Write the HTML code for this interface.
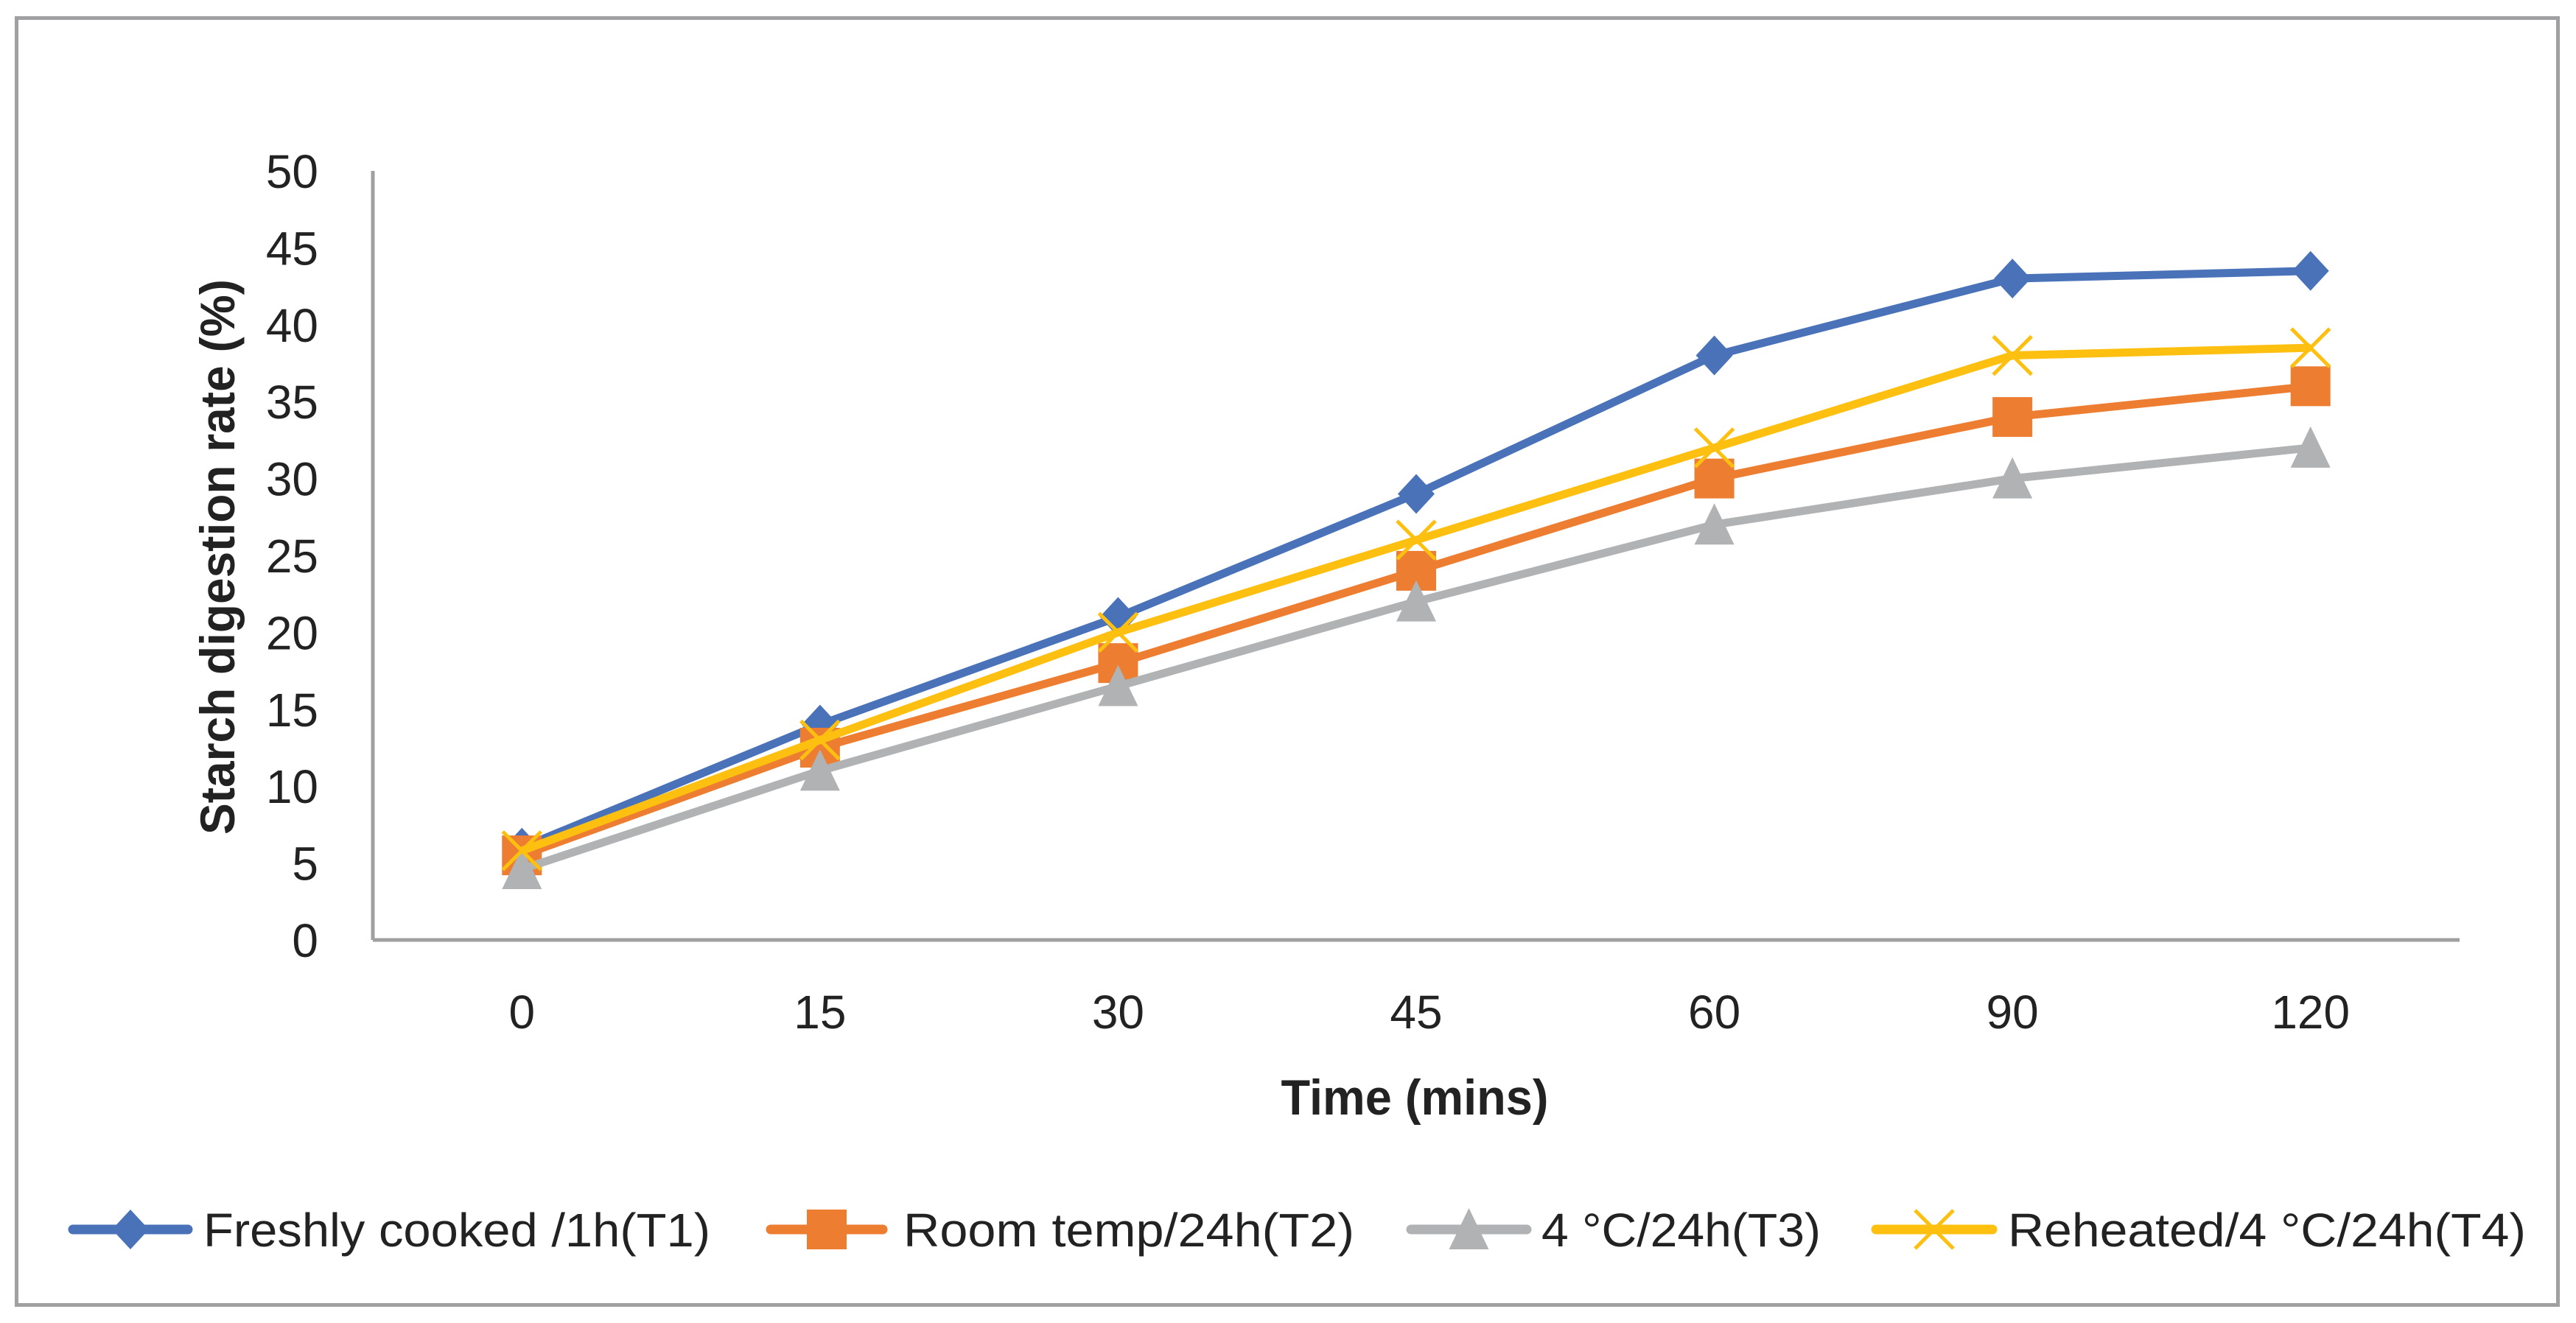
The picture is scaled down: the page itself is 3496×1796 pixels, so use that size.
<!DOCTYPE html>
<html><head><meta charset="utf-8"><style>
html,body{margin:0;padding:0;background:#fff;}
svg{display:block;}
text{font-family:"Liberation Sans",sans-serif;fill:#222;}
</style></head><body>
<svg id="chart" width="3496" height="1796" viewBox="0 0 3496 1796" xmlns="http://www.w3.org/2000/svg">
<rect x="22.5" y="24.5" width="3449" height="1747" fill="#fff" stroke="#a0a0a2" stroke-width="5"/>
<g id="grid"></g>
<g id="axes"></g>
<g id="series"></g>
<text transform="translate(318,756) rotate(-90)" text-anchor="middle" font-size="66" font-weight="bold" textLength="754" lengthAdjust="spacingAndGlyphs">Starch digestion rate (%)</text>
<text x="1920" y="1513" text-anchor="middle" font-size="68" font-weight="bold" textLength="363" lengthAdjust="spacingAndGlyphs">Time (mins)</text>
<g id="legend"></g>
</svg>
<script>
const categories = ["0","15","30","45","60","90","120"];
const yTicks = [0,5,10,15,20,25,30,35,40,45,50];
const seriesNames = ["Freshly cooked /1h(T1)","Room temp/24h(T2)","4 °C/24h(T3)","Reheated/4 °C/24h(T4)"];
const t1 = [6,14,21,29,38,43,43.5];
const t2 = [5.5,12.5,18,24,30,34,36];
const t3 = [4.6,11,16.5,22,27,30,32];
const t4 = [5.8,13,20,26,32,38,38.5];

const NS="http://www.w3.org/2000/svg";
const X0=506, X1=3338, Y0=1276, YTOP=232, YMAX=50;
const band=(X1-X0)/categories.length;
const xs=i=>X0+band*(i+0.5);
const ys=v=>Y0-(v/YMAX)*(Y0-YTOP);
function mk(tag,parent,attrs){const e=document.createElementNS(NS,tag);for(const k in attrs)e.setAttribute(k,attrs[k]);parent.appendChild(e);return e;}
const axes=document.getElementById('axes');
let e=mk('line',axes,{x1:X0,y1:YTOP,x2:X0,y2:Y0,stroke:'#a0a0a2','stroke-width':5});


e=mk('line',axes,{x1:X0,y1:Y0,x2:X1,y2:Y0,stroke:'#a0a0a2','stroke-width':5});


yTicks.forEach(v=>{
  const t=mk('text',axes,{x:432,y:ys(v)+23,'text-anchor':'end','font-size':64});
  t.textContent=String(v);
  
  
});
categories.forEach((c,i)=>{
  const t=mk('text',axes,{x:xs(i),y:1396,'text-anchor':'middle','font-size':64});
  t.textContent=c;
  
  
});
const colors=['#4a72b8','#ed7d31','#b1b2b3','#fdc010'];
const data=[t1,t2,t3,t4];
function marker(g,k,x,y){
  const c=colors[k];let m;
  if(k===0)m=mk('polygon',g,{points:`${x},${y-27} ${x+25},${y} ${x},${y+27} ${x-25},${y}`,fill:c});
  else if(k===1)m=mk('rect',g,{x:x-27,y:y-27,width:54,height:54,fill:c});
  else if(k===2)m=mk('polygon',g,{points:`${x},${y-29} ${x+27},${y+27} ${x-27},${y+27}`,fill:c});
  else m=mk('path',g,{d:`M${x-26},${y-26}L${x+26},${y+26}M${x+26},${y-26}L${x-26},${y+26}`,stroke:c,'stroke-width':5,fill:'none'});
  return m;
}
const sg=document.getElementById('series');
data.forEach((arr,k)=>{
  const g=mk('g',sg,{});
  
  
  const pts=arr.map((v,i)=>xs(i)+','+ys(v)).join(' ');
  const l=mk('polyline',g,{points:pts,fill:'none',stroke:colors[k],'stroke-width':11,'stroke-linejoin':'round'});
  
  
  arr.forEach((v,i)=>{
    const m=marker(g,k,xs(i),ys(v));
    
    
  });
});
const lg=document.getElementById('legend');
const legLine=[[92,262],[1039,1205],[1908,2079],[2539,2711]];
const legText=[[276,688],[1226,612],[2092,379],[2725,703]];
seriesNames.forEach((n,k)=>{
  const g=mk('g',lg,{});
  
  
  mk('line',g,{x1:legLine[k][0]+7,y1:1669,x2:legLine[k][1]-7,y2:1669,stroke:colors[k],'stroke-width':13,'stroke-linecap':'round'});
  marker(g,k,(legLine[k][0]+legLine[k][1])/2,1669);
  const t=mk('text',g,{x:legText[k][0],y:1692,'font-size':64,textLength:legText[k][1],lengthAdjust:'spacingAndGlyphs'});
  t.textContent=n;
  
  
});
</script>
</body></html>
